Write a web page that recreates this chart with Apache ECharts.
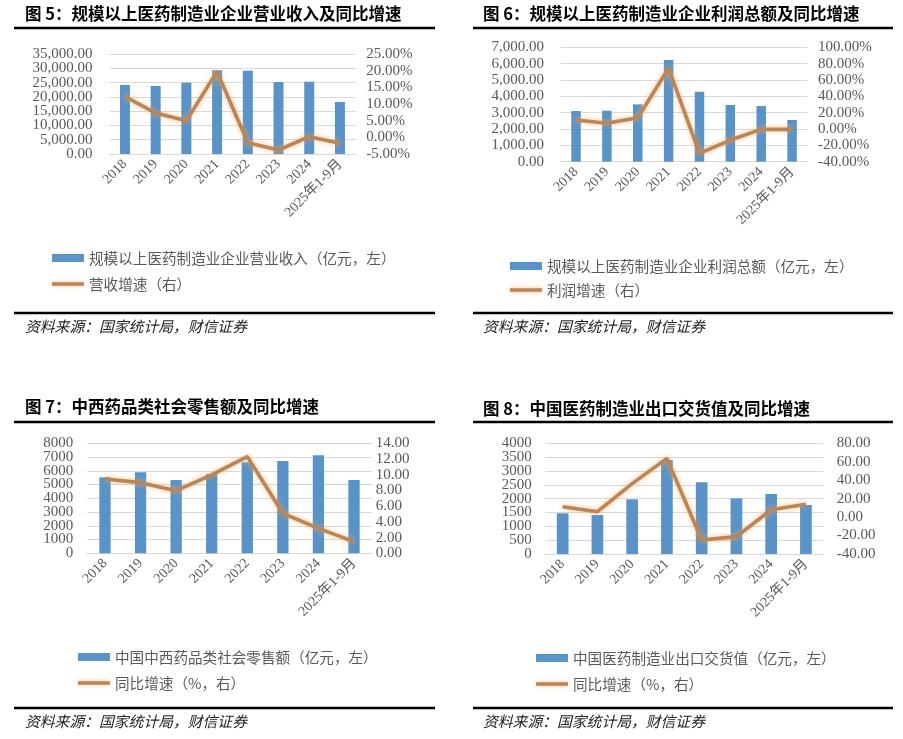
<!DOCTYPE html>
<html>
<head>
<meta charset="utf-8">
<script src="https://cdn.jsdelivr.net/npm/echarts@6/dist/echarts.min.js"></script>
<style>
html,body{margin:0;padding:0;background:#fff;}
#c{width:903px;height:739px;}
</style>
</head>
<body>
<div id="c"></div>
<script>
// ---- data ----
const categories = ['2018','2019','2020','2021','2022','2023','2024','2025年1-9月'];
// 图5
const revenue = [24150, 23800, 24950, 29288, 29150, 25200, 25300, 18200];
const revenueGrowth = [12.2, 7.3, 5.0, 19.7, -1.6, -3.8, 0.2, -1.8];
// 图6
const profit = [3100, 3120, 3510, 6220, 4280, 3470, 3410, 2550];
const profitGrowth = [11.0, 7.0, 13.8, 74.3, -29.8, -13.5, -0.4, -0.4];
// 图7
const retail = [5527, 5890, 5330, 5767, 6618, 6713, 7127, 5330];
const retailGrowth = [9.46, 8.99, 7.97, 9.97, 12.3, 5.09, 3.18, 1.48];
// 图8
const exportValue = [1470, 1409, 1974, 3400, 2590, 2013, 2168, 1770];
const exportGrowth = [11.3, 5.9, 36.3, 63.7, -24.8, -21.2, 8.0, 14.0];

const titles = [
  '图 5：规模以上医药制造业企业营业收入及同比增速',
  '图 6：规模以上医药制造业企业利润总额及同比增速',
  '图 7：中西药品类社会零售额及同比增速',
  '图 8：中国医药制造业出口交货值及同比增速'
];
const barNames = [
  '规模以上医药制造业企业营业收入（亿元，左）',
  '规模以上医药制造业企业利润总额（亿元，左）',
  '中国中西药品类社会零售额（亿元，左）',
  '中国医药制造业出口交货值（亿元，左）'
];
const lineNames = ['营收增速（右）','利润增速（右）','同比增速（%，右）','同比增速（%，右）'];
const sourceText = '资料来源：国家统计局，财信证券';

// ---- layout ----
const panels = [
  {grid:{left:109.6,top:54,width:245.7,height:100}, lmin:0,lmax:35000,lint:5000, rmin:-5,rmax:25,rint:5,
   lfmt:v=>v.toLocaleString('en-US',{minimumFractionDigits:2,maximumFractionDigits:2}), rfmt:v=>v.toFixed(2)+'%',
   lm:17, rm:11, bw:10, bars:revenue, line:revenueGrowth,
   title:{x:25,y:15}, rule1:{y:28,x1:14,x2:435}, legend:{x:52,y:250,gap:10}, rule2:{y:313}, src:{x:25,y:327}},
  {grid:{left:560.6,top:47.3,width:246.9,height:114.4}, lmin:0,lmax:7000,lint:1000, rmin:-40,rmax:100,rint:20,
   lfmt:v=>v.toLocaleString('en-US',{minimumFractionDigits:2,maximumFractionDigits:2}), rfmt:v=>v.toFixed(2)+'%',
   lm:16.6, rm:10.5, bw:9.5, bars:profit, line:profitGrowth,
   title:{x:483,y:15}, rule1:{y:28,x1:473,x2:893}, legend:{x:510,y:258,gap:8}, rule2:{y:313}, src:{x:483,y:327}},
  {grid:{left:87.2,top:443.3,width:284.6,height:110}, lmin:0,lmax:8000,lint:1000, rmin:0,rmax:14,rint:2,
   lfmt:v=>String(v), rfmt:v=>v.toFixed(2),
   lm:14, rm:4, bw:11.3, bars:retail, line:retailGrowth,
   title:{x:25,y:408}, rule1:{y:422,x1:14,x2:435}, legend:{x:78,y:649,gap:10}, rule2:{y:708}, src:{x:25,y:722}},
  {grid:{left:545.3,top:443.3,width:278,height:110.7}, lmin:0,lmax:4000,lint:500, rmin:-40,rmax:80,rint:20,
   lfmt:v=>String(v), rfmt:v=>v.toFixed(2),
   lm:13.6, rm:13.4, bw:11.7, bars:exportValue, line:exportGrowth,
   title:{x:483,y:410}, rule1:{y:422,x1:473,x2:893}, legend:{x:536,y:650,gap:10}, rule2:{y:708}, src:{x:483,y:722}}
];

const barColor = '#5a93c8';
const lineColor = '#b98559';
const labelColor = '#595959';
const serif = "'Liberation Serif','Noto Sans CJK SC',serif";
const cjk = "'Noto Sans CJK SC',sans-serif";

const option = {
  animation:false,
  backgroundColor:'#fff',
  grid:[], xAxis:[], yAxis:[], series:[], legend:[], graphic:[]
};

// Each side uses two coincident axes on the same scale: one carries the inner
// tick labels, the other only the end labels, so dense labels are never dropped.
function sideAxes(i, pos, min, max, interval, fmt, margin, grid) {
  const base = {
    type:'value', gridIndex:i, min:min, max:max, interval:interval, position:pos,
    axisLine:{show:false}, axisTick:{show:false}
  };
  const lab = {color:labelColor, fontSize:15, fontFamily:serif, margin:margin};
  return [
    Object.assign({}, base, {
      splitLine: grid ? {lineStyle:{color:'#d9d9d9',width:1}} : {show:false},
      axisLabel:Object.assign({}, lab, {formatter:fmt, showMinLabel:false, showMaxLabel:false})
    }),
    Object.assign({}, base, {
      splitLine:{show:false},
      axisLabel:Object.assign({}, lab, {
        formatter:v => (v === min || v === max) ? fmt(v) : '',
        showMinLabel:true, showMaxLabel:true
      })
    })
  ];
}

panels.forEach((p,i)=>{
  option.grid.push(Object.assign({containLabel:false}, p.grid));
  option.xAxis.push({
    type:'category', gridIndex:i, data:categories,
    axisLine:{onZero:false, lineStyle:{color:'#d9d9d9',width:1}},
    axisTick:{show:false},
    axisLabel:{interval:0, rotate:45, margin:8, color:labelColor, fontSize:14, fontFamily:serif}
  });
  option.yAxis.push(...sideAxes(i,'left', p.lmin,p.lmax,p.lint,p.lfmt,p.lm,true));
  option.yAxis.push(...sideAxes(i,'right',p.rmin,p.rmax,p.rint,p.rfmt,p.rm,false));
  option.series.push({
    type:'bar', name:barNames[i], xAxisIndex:i, yAxisIndex:4*i, data:p.bars,
    barWidth:p.bw, itemStyle:{color:barColor}
  });
  option.series.push({
    type:'line', name:lineNames[i], xAxisIndex:i, yAxisIndex:4*i+2, data:p.line,
    symbol:'none', showSymbol:false, z:5,
    lineStyle:{color:lineColor, width:3.6, shadowColor:'rgba(250,165,80,0.75)', shadowBlur:5},
    itemStyle:{color:lineColor}
  });
  option.legend.push({
    orient:'vertical', left:p.legend.x, top:p.legend.y, padding:0,
    itemWidth:32, itemHeight:8, itemGap:p.legend.gap,
    textStyle:{color:labelColor, fontSize:14.6, fontFamily:cjk, lineHeight:16},
    data:[
      {name:barNames[i], icon:'rect'},
      {name:lineNames[i], icon:'path://M0,0H32V3.5H0Z',
       itemStyle:{color:lineColor, shadowColor:'rgba(250,165,80,0.75)', shadowBlur:4}}
    ]
  });
  option.graphic.push({
    type:'text', left:p.title.x, top:p.title.y-10,
    style:{text:titles[i], fill:'#000', font:"bold 16.5px 'Noto Sans CJK SC'"}
  });
  option.graphic.push({
    type:'line', shape:{x1:p.rule1.x1,y1:p.rule1.y,x2:p.rule1.x2,y2:p.rule1.y},
    style:{stroke:'#000', lineWidth:2.5}
  });
  option.graphic.push({
    type:'line', shape:{x1:p.rule1.x1,y1:p.rule2.y,x2:p.rule1.x2,y2:p.rule2.y},
    style:{stroke:'#000', lineWidth:2.5}
  });
  option.graphic.push({
    type:'text', left:p.src.x, top:p.src.y-8,
    style:{text:sourceText, fill:'#222', font:"italic 14.8px 'Noto Sans CJK SC'"}
  });
});

const chart = echarts.init(document.getElementById('c'), null, {renderer:'canvas'});
chart.setOption(option);
</script>
</body>
</html>
